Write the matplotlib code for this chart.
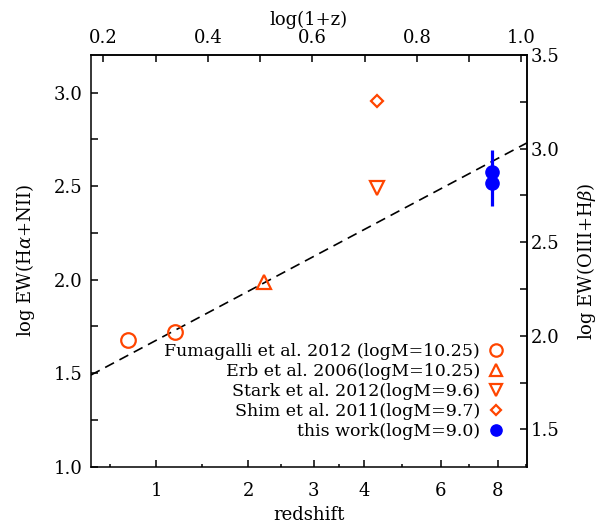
import numpy as np
import matplotlib.pyplot as plt

plt.rcParams['font.family'] = ['DejaVu Serif']
plt.rcParams['mathtext.fontset'] = 'dejavuserif'

# values: redshift and log EW(Ha+NII)
z_fum = [0.77, 1.17]
ew_fum = [1.68, 1.72]
z_erb = [2.22]
ew_erb = [1.99]
z_stark = [4.3]
ew_stark = [2.49]
z_shim = [4.3]
ew_shim = [2.955]
z_this = [7.8, 7.8]
ew_this = [2.575, 2.515]
err_lo = [0.0, 0.12]
err_hi = [0.12, 0.0]

# dashed trend, end points
z_fit = [0.5, 9.23]
ew_fit = [1.49, 2.73]

z_ticks = [1, 2, 3, 4, 6, 8]
top_ticks = [0.2, 0.3, 0.4, 0.5, 0.6, 0.7, 0.8, 0.9, 1.0]
orange = '#FF4500'
blue = '#0000FF'


def lz(z):
	# x axis is log(1+z)
	return np.log10(1 + np.asarray(z, dtype=float))


fig = plt.figure(figsize=(6.06, 5.25), dpi=100)
ax = fig.add_axes([0.150, 0.111, 0.719, 0.784])

ax.plot(lz(z_fit), ew_fit, color='black', lw=1.2, dashes=(6, 3.7))

ax.plot(lz(z_fum), ew_fum, 'o', mfc='none', mec=orange, mew=1.6, ms=10.5,
        label='Fumagalli et al. 2012 (logM=10.25)')
ax.plot(lz(z_erb), ew_erb, '^', mfc='none', mec=orange, mew=1.6, ms=10,
        label='Erb et al. 2006(logM=10.25)')
ax.plot(lz(z_stark), ew_stark, 'v', mfc='none', mec=orange, mew=1.6, ms=10,
        label='Stark et al. 2012(logM=9.6)')
ax.plot(lz(z_shim), ew_shim, 'D', mfc='none', mec=orange, mew=1.6, ms=6.5,
        label='Shim et al. 2011(logM=9.7)')
ax.errorbar(lz(z_this), ew_this, yerr=[err_lo, err_hi], fmt='none', ecolor=blue,
            elinewidth=2.3, capsize=0)
ax.plot(lz(z_this), ew_this, 'o', color=blue, ms=9.5, label='this work(logM=9.0)')

ax.set_xlim(lz(0.5), lz(9.23))
ax.set_ylim(1.0, 3.2)

pos = lz(z_ticks)
ax.set_xticks(pos)
ax.set_xticklabels([str(z) for z in z_ticks])
mids = list((pos[:-1] + pos[1:]) / 2)
mids = [pos[0] - (pos[1] - pos[0]) / 2] + mids + [pos[-1] + (pos[-1] - pos[-2]) / 2]
ax.set_xticks(mids, minor=True)

ax.set_yticks([1.0, 1.5, 2.0, 2.5, 3.0])
ax.set_yticklabels(['1.0', '1.5', '2.0', '2.5', '3.0'])
ax.set_yticks([1.25, 1.75, 2.25, 2.75], minor=True)

ax.tick_params(which='both', direction='in', top=False, right=False, width=1.1,
               labelsize=13)
ax.tick_params(axis='x', which='major', length=5, pad=11)
ax.tick_params(axis='x', which='minor', length=2.5)
ax.tick_params(axis='y', which='both', length=5, pad=6)

ax.set_xlabel('redshift', fontsize=13, labelpad=4)
ax.set_ylabel('log EW(H$\\alpha$+NII)', fontsize=13, labelpad=12)

# top axis: log(1+z)
top = ax.secondary_xaxis('top')
top.set_xticks(top_ticks)
top.set_xticklabels(['%.1f' % t if i % 2 == 0 else '' for i, t in enumerate(top_ticks)])
top.tick_params(direction='in', length=5, width=1.1, labelsize=13, pad=6)
top.set_xlabel('log(1+z)', fontsize=13, labelpad=3)

# right axis: log EW(OIII+Hb)
right = ax.secondary_yaxis('right', functions=(lambda y: y + 0.3, lambda y: y - 0.3))
rt = [1.5, 1.75, 2.0, 2.25, 2.5, 2.75, 3.0, 3.25, 3.5]
right.set_yticks(rt)
right.set_yticklabels(['%.1f' % t if i % 2 == 0 else '' for i, t in enumerate(rt)])
right.tick_params(direction='in', length=5, width=1.1, labelsize=13, pad=3)
right.set_ylabel('log EW(OIII+H$\\beta$)', fontsize=13, labelpad=11)

for a in (ax, top, right):
	for s in a.spines.values():
		s.set_linewidth(1.1)

ax.legend(loc='lower right', bbox_to_anchor=(0.945, 0.065), frameon=False,
          markerfirst=False, numpoints=1, handlelength=0.8, handletextpad=0.5,
          labelspacing=0.17, borderpad=0, borderaxespad=0, markerscale=0.85,
          fontsize=12.5)

plt.savefig('out.png', dpi=100)
